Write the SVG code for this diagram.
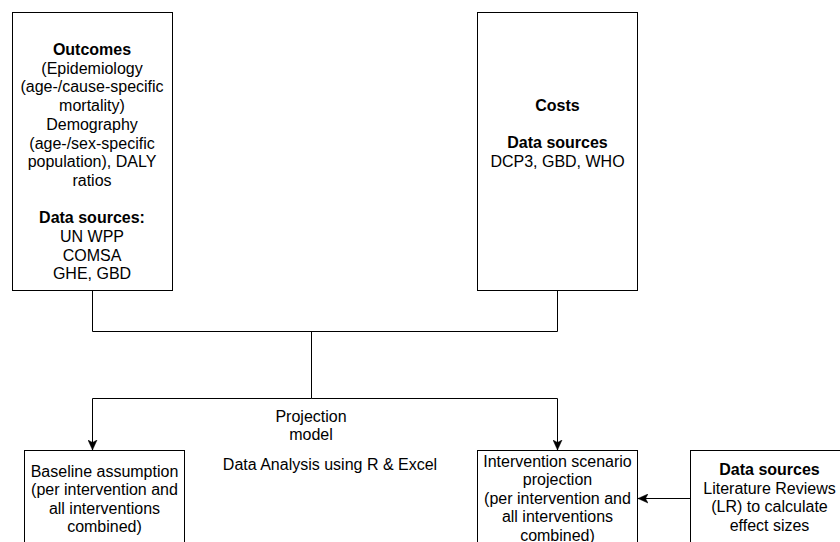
<svg xmlns="http://www.w3.org/2000/svg" width="840" height="542" viewBox="0 0 840 542">
<style>
  .box { fill: #ffffff; stroke: #000000; stroke-width: 1; }
  .t { font-family: "Liberation Sans", Arial, Helvetica, sans-serif; font-size: 16px; fill: #000000; text-anchor: middle; }
  .b { font-weight: bold; }
  .edge { fill: none; stroke: #000000; stroke-width: 1; }
</style>
<defs>
  <marker id="arrow" viewBox="0 0 10 10" refX="10" refY="5" markerWidth="10" markerHeight="10" markerUnits="userSpaceOnUse" orient="auto">
    <path d="M0,0.5 L10,5 L0,9.5 L2.5,5 Z" fill="#000000" stroke="#000000" stroke-width="0.5"/>
  </marker>
</defs>
<rect width="840" height="542" fill="#ffffff"/>

<g id="connectors">
  <path class="edge" d="M92.5,290.5 V331.5 H557.5 V290.5"/>
  <path class="edge" d="M311.5,331.5 V398.5"/>
  <path class="edge" d="M311.5,398.5 H92.5 V450" marker-end="url(#arrow)"/>
  <path class="edge" d="M311.5,398.5 H557.5 V450" marker-end="url(#arrow)"/>
  <path class="edge" d="M690.5,498.5 H638" marker-end="url(#arrow)"/>
</g>

<g id="outcomes">
  <rect class="box" x="12.5" y="12.5" width="160" height="278"/>
  <text class="t b" x="92" y="55">Outcomes</text>
  <text class="t" x="92" y="73.7">(Epidemiology</text>
  <text class="t" x="92" y="92.4">(age-/cause-specific</text>
  <text class="t" x="92" y="111.1">mortality)</text>
  <text class="t" x="92" y="129.8">Demography</text>
  <text class="t" x="92" y="148.5">(age-/sex-specific</text>
  <text class="t" x="92" y="167.2">population), DALY</text>
  <text class="t" x="92" y="185.9">ratios</text>
  <text class="t b" x="92" y="223.3">Data sources:</text>
  <text class="t" x="92" y="242">UN WPP</text>
  <text class="t" x="92" y="260.7">COMSA</text>
  <text class="t" x="92" y="279.4">GHE, GBD</text>
</g>

<g id="costs">
  <rect class="box" x="477.5" y="12.5" width="160" height="278"/>
  <text class="t b" x="557.5" y="110.5">Costs</text>
  <text class="t b" x="557.5" y="147.9">Data sources</text>
  <text class="t" x="557.5" y="166.6">DCP3, GBD, WHO</text>
</g>

<g id="projection">
  <text class="t" x="311" y="421.5">Projection</text>
  <text class="t" x="311" y="439.5">model</text>
  <text class="t" x="330" y="470">Data Analysis using R &amp; Excel</text>
</g>

<g id="baseline">
  <rect class="box" x="24.5" y="450.5" width="160" height="110"/>
  <text class="t" x="104.5" y="476.5">Baseline assumption</text>
  <text class="t" x="104.5" y="495">(per intervention and</text>
  <text class="t" x="104.5" y="513.5">all interventions</text>
  <text class="t" x="104.5" y="532">combined)</text>
</g>

<g id="intervention">
  <rect class="box" x="477.5" y="450.5" width="160" height="110"/>
  <text class="t" x="557.5" y="466.5">Intervention scenario</text>
  <text class="t" x="557.5" y="485">projection</text>
  <text class="t" x="557.5" y="503.5">(per intervention and</text>
  <text class="t" x="557.5" y="522">all interventions</text>
  <text class="t" x="557.5" y="540.5">combined)</text>
</g>

<g id="literature">
  <rect class="box" x="690.5" y="450.5" width="160" height="110"/>
  <text class="t b" x="769.5" y="475">Data sources</text>
  <text class="t" x="769.5" y="493.6">Literature Reviews</text>
  <text class="t" x="769.5" y="512.2">(LR) to calculate</text>
  <text class="t" x="769.5" y="530.8">effect sizes</text>
</g>
</svg>
